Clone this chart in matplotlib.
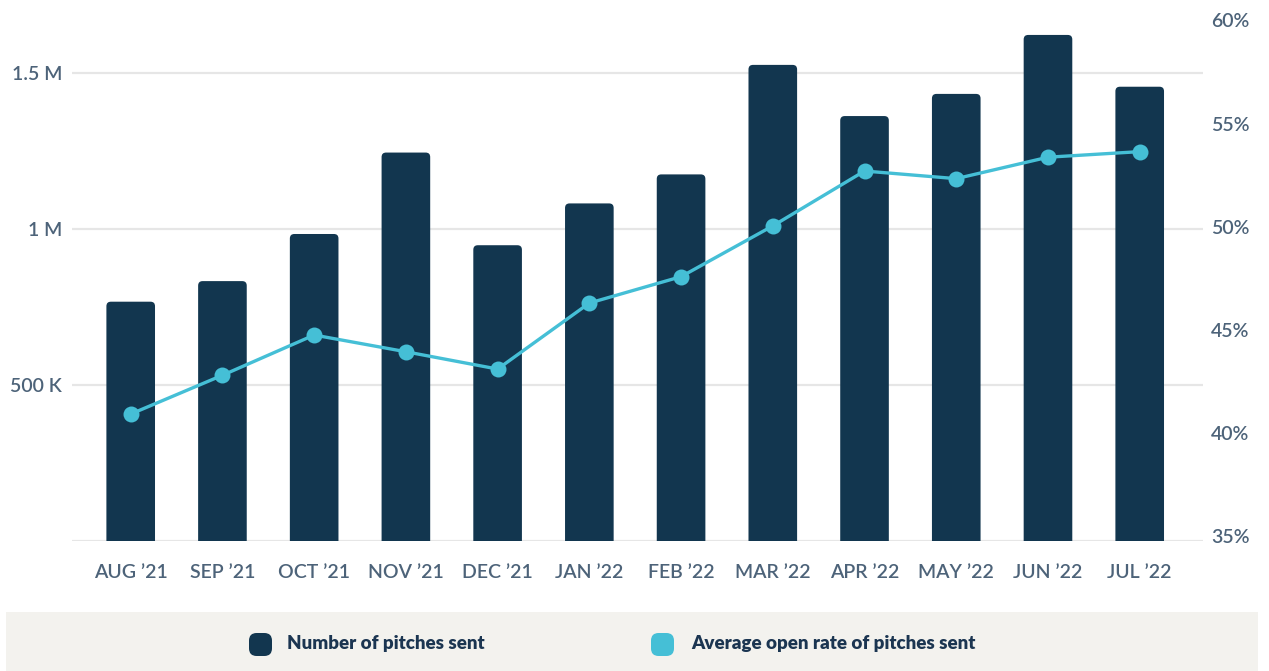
import matplotlib
matplotlib.use("Agg")
import matplotlib.pyplot as plt
from matplotlib.patches import FancyBboxPatch, Rectangle
import numpy as np

# ---- data ----
months = ["AUG ’21", "SEP ’21", "OCT ’21", "NOV ’21", "DEC ’21", "JAN ’22",
          "FEB ’22", "MAR ’22", "APR ’22", "MAY ’22", "JUN ’22", "JUL ’22"]
pitches_sent = [767000, 833000, 984000, 1245000, 948000, 1082000,
                1175000, 1526000, 1362000, 1433000, 1622000, 1456000]
open_rate_pct = [40.92, 42.80, 44.75, 43.94, 43.10, 46.30,
                 47.58, 50.04, 52.70, 52.33, 53.37, 53.64]
left_ticks = [0, 500000, 1000000, 1500000]
left_labels = ["", "500 K", "1 M", "1.5 M"]
right_ticks = [35, 40, 45, 50, 55, 60]
right_labels = ["35%", "40%", "45%", "50%", "55%", "60%"]
legend_labels = ["Number of pitches sent", "Average open rate of pitches sent"]

# ---- style ----
BAR = "#12364f"
LINE = "#45bfd6"
GRID = "#e6e6e6"
TICK = "#4d6379"
LEGTXT = "#1b3551"
FONT = "Lato"
TICKW = "semibold"

W, H = 1269, 671
fig = plt.figure(figsize=(W / 100, H / 100), dpi=100)
fig.patch.set_facecolor("white")

ax_l, ax_r, ax_b, ax_t = 72, 1203, 541, 20
ax = fig.add_axes([ax_l / W, 1 - ax_b / H, (ax_r - ax_l) / W, (ax_b - ax_t) / H])
ax.set_facecolor("white")

x = np.arange(len(months))
xmin, xmax = -0.64, len(months) - 1 + 0.69
ymax_left = (ax_b - ax_t) / 156.0 * 500000
ax.set_xlim(xmin, xmax)
ax.set_ylim(0, ymax_left)

bar_w = 0.53
bars = ax.bar(x, pitches_sent, width=bar_w, color=BAR, zorder=2)
# replace with rounded-corner versions
px_per_x = (ax_r - ax_l) / (xmax - xmin)
px_per_y = (ax_b - ax_t) / ymax_left
r = 4.5 / px_per_x
r_y = 4.5 / px_per_y
aspect = r_y / r
for rect in list(bars):
    bx, by = rect.get_x(), rect.get_y()
    bw, bh = rect.get_width(), rect.get_height()
    rect.set_visible(False)
    fb = FancyBboxPatch((bx, by - 2 * r_y), bw, bh + 2 * r_y,
                        boxstyle=f"round,pad=0,rounding_size={r}",
                        mutation_aspect=aspect, facecolor=BAR,
                        edgecolor="none", zorder=2)
    ax.add_patch(fb)

ax.set_yticks(left_ticks)
ax.set_yticklabels(left_labels)
ax.yaxis.grid(True, color=GRID, linewidth=1.6)
ax.set_axisbelow(True)
ax.set_xticks(x)
ax.set_xticklabels(months)
for s in ax.spines.values():
    s.set_visible(False)
ax.tick_params(axis="both", length=0)
ax.tick_params(axis="x", pad=16.5, labelsize=14, labelcolor=TICK)
ax.tick_params(axis="y", pad=7, labelsize=14, labelcolor=TICK)
for lab in ax.get_xticklabels() + ax.get_yticklabels():
    lab.set_fontfamily(FONT)
    lab.set_fontweight(TICKW)

ax2 = ax.twinx()
slope = 20.63
ymid, vmid = 278.3, 47.5
r_lo = vmid - (ax_b - ymid) / slope
r_hi = vmid + (ymid - ax_t) / slope
ax2.set_ylim(r_lo, r_hi)
ax2.plot(x, open_rate_pct, color=LINE, linewidth=2.4, marker="o",
         markersize=11.5, markeredgewidth=0, zorder=3)
ax2.set_yticks(right_ticks)
ax2.set_yticklabels(right_labels)
for s in ax2.spines.values():
    s.set_visible(False)
ax2.tick_params(axis="y", length=0, pad=6, labelsize=14, labelcolor=TICK)
for lab in ax2.get_yticklabels():
    lab.set_fontfamily(FONT)
    lab.set_fontweight(TICKW)

# ---- legend panel ----
fig.add_artist(Rectangle((6 / W, 0), 1252 / W, 59 / H, transform=fig.transFigure,
                         facecolor="#f3f2ee", edgecolor="none", zorder=0))
leg_colors = [BAR, LINE]
leg_marker_x = [249, 651]
leg_text_x = [287, 691]
for c, mx, tx, lab in zip(leg_colors, leg_marker_x, leg_text_x, legend_labels):
    fig.add_artist(FancyBboxPatch((mx / W, 15 / H), 23 / W, 23 / H,
                                  boxstyle="round,pad=0,rounding_size=0.006",
                                  mutation_aspect=W / H,
                                  transform=fig.transFigure, facecolor=c,
                                  edgecolor="none", zorder=1))
    fig.text(tx / W, 27 / H, lab, ha="left", va="center", fontsize=13.5,
             fontweight="heavy", color=LEGTXT, family=FONT)

fig.savefig("out.png", dpi=100)
